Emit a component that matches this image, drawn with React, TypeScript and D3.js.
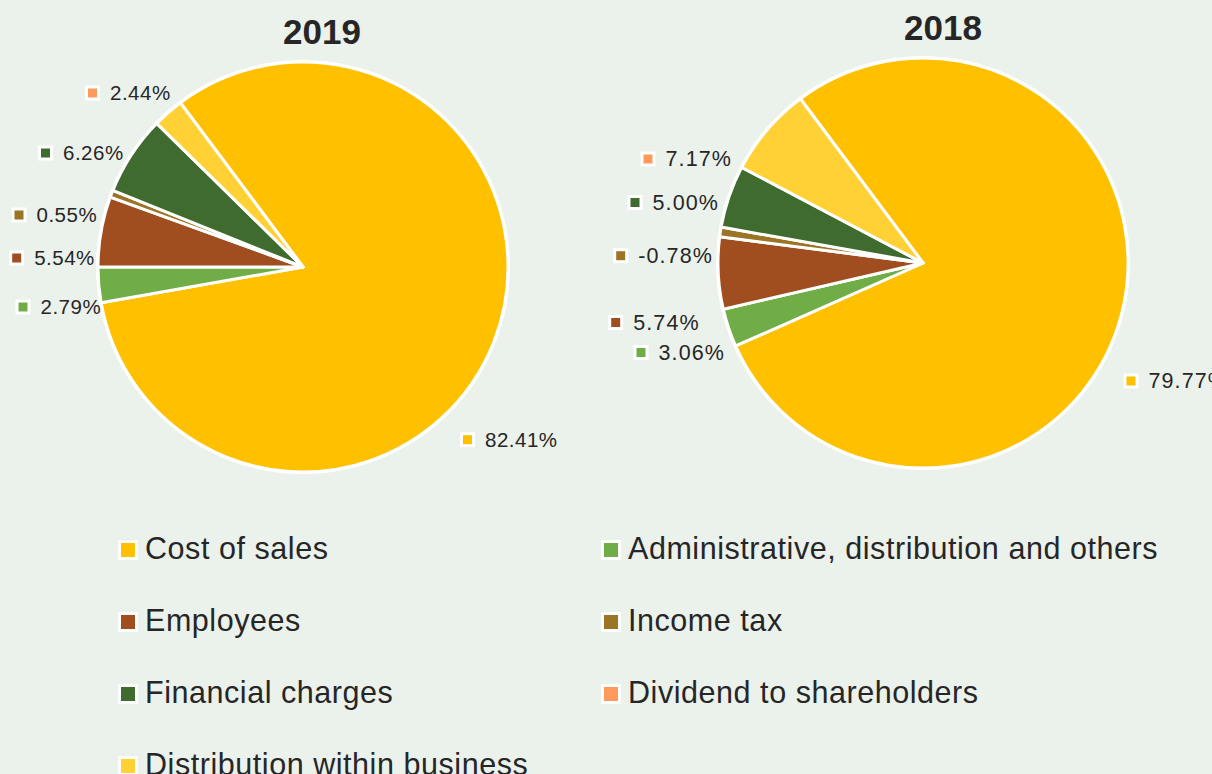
import React from "react";
import * as d3 from "d3";

// ---- data ----
const seriesNames = [
  "Cost of sales",
  "Administrative, distribution and others",
  "Employees",
  "Income tax",
  "Financial charges",
  "Dividend to shareholders",
  "Distribution within business",
];
const seriesColors = ["#FFC000", "#70AD47", "#A04D20", "#9B7425", "#3F6B2E", "#FF9A5C", "#FFD135"];
// slice order on the pies (first six series)
const values2019 = [82.41, 2.79, 5.54, 0.55, 6.26, 2.44];
const values2018 = [79.77, 3.06, 5.74, -0.78, 5.0, 7.17];
const labels2019 = ["82.41%", "2.79%", "5.54%", "0.55%", "6.26%", "2.44%"];
const labels2018 = ["79.77%", "3.06%", "5.74%", "-0.78%", "5.00%", "7.17%"];
// the last slice is drawn in the light-yellow colour in the original
const sliceColorIdx = [0, 1, 2, 3, 4, 6];
const years = ["2019", "2018"];

// ---- layout ----
const W = 1212;
const H = 774;
const R = 205;
const START = (-36.75 * Math.PI) / 180;
const pies = [
  { cx: 303, cy: 267, titleX: 322, titleY: 44, values: values2019, labels: labels2019, lblSize: 20.5, lblSpacing: 0.5,
    labelOff: [[164.5, 172.7], [-280, 40], [-286.3, -9], [-284, -52], [-257.5, -114], [-210.5, -174]] },
  { cx: 923, cy: 263, titleX: 943, titleY: 39.5, values: values2018, labels: labels2018, lblSize: 21.5, lblSpacing: 1.1,
    labelOff: [[208, 118], [-282, 89.5], [-307.3, 59.5], [-302.3, -7.3], [-288, -60.5], [-275, -104]] },
];
const FONT = "'Liberation Sans', Arial, sans-serif";
const TEXT = "#262626";

export default function App() {
  const pieGen = d3
    .pie<number>()
    .value((d) => Math.abs(d))
    .sort(null)
    .startAngle(START)
    .endAngle(START + 2 * Math.PI);
  const arcGen = d3.arc<d3.PieArcDatum<number>>().innerRadius(0).outerRadius(R);

  const legendX = [118, 601];
  const legendY0 = 559;
  const legendDy = 72;

  return (
    <div style={{ position: "fixed", left: 0, top: 0, width: W, height: H, overflow: "hidden" }}>
      <svg width={W} height={H} style={{ display: "block", background: "#EBF1EB" }} fontFamily={FONT}>
        <rect x={0} y={0} width={W} height={H} fill="#EBF1EB" />
        {pies.map((p, pi) => {
          const arcs = pieGen(p.values);
          return (
            <g key={pi}>
              <text x={p.titleX} y={p.titleY} textAnchor="middle" fontSize={35} fontWeight="bold" fill={TEXT}>
                {years[pi]}
              </text>
              <g transform={`translate(${p.cx},${p.cy})`}>
                {arcs.map((a, i) => (
                  <path key={i} d={arcGen(a) || ""} fill={seriesColors[sliceColorIdx[i]]} stroke="#fff" strokeWidth={3} strokeLinejoin="round" />
                ))}
                <circle r={R + 1} fill="none" stroke="#fff" strokeWidth={2} />
                {arcs.map((a, i) => {
                  const [ox, oy] = p.labelOff[i];
                  return (
                    <g key={"l" + i}>
                      <rect x={ox - 6} y={oy - 6} width={12} height={12} fill={seriesColors[i]} stroke="#fff" strokeWidth={3} />
                      <text x={ox + 17.5} y={oy + 7.4} fontSize={p.lblSize} letterSpacing={p.lblSpacing} fill={TEXT}>
                        {p.labels[i]}
                      </text>
                    </g>
                  );
                })}
              </g>
            </g>
          );
        })}
        {seriesNames.map((name, i) => {
          const col = i % 2;
          const row = Math.floor(i / 2);
          const x = legendX[col];
          const y = legendY0 + row * legendDy;
          return (
            <g key={name}>
              <rect x={x + 1.5} y={y - 17.5} width={17} height={17} fill={seriesColors[i]} stroke="#fff" strokeWidth={3} />
              <text x={x + 27} y={y} fontSize={30.5} letterSpacing={0.55} fill={TEXT}>
                {name}
              </text>
            </g>
          );
        })}
      </svg>
    </div>
  );
}
